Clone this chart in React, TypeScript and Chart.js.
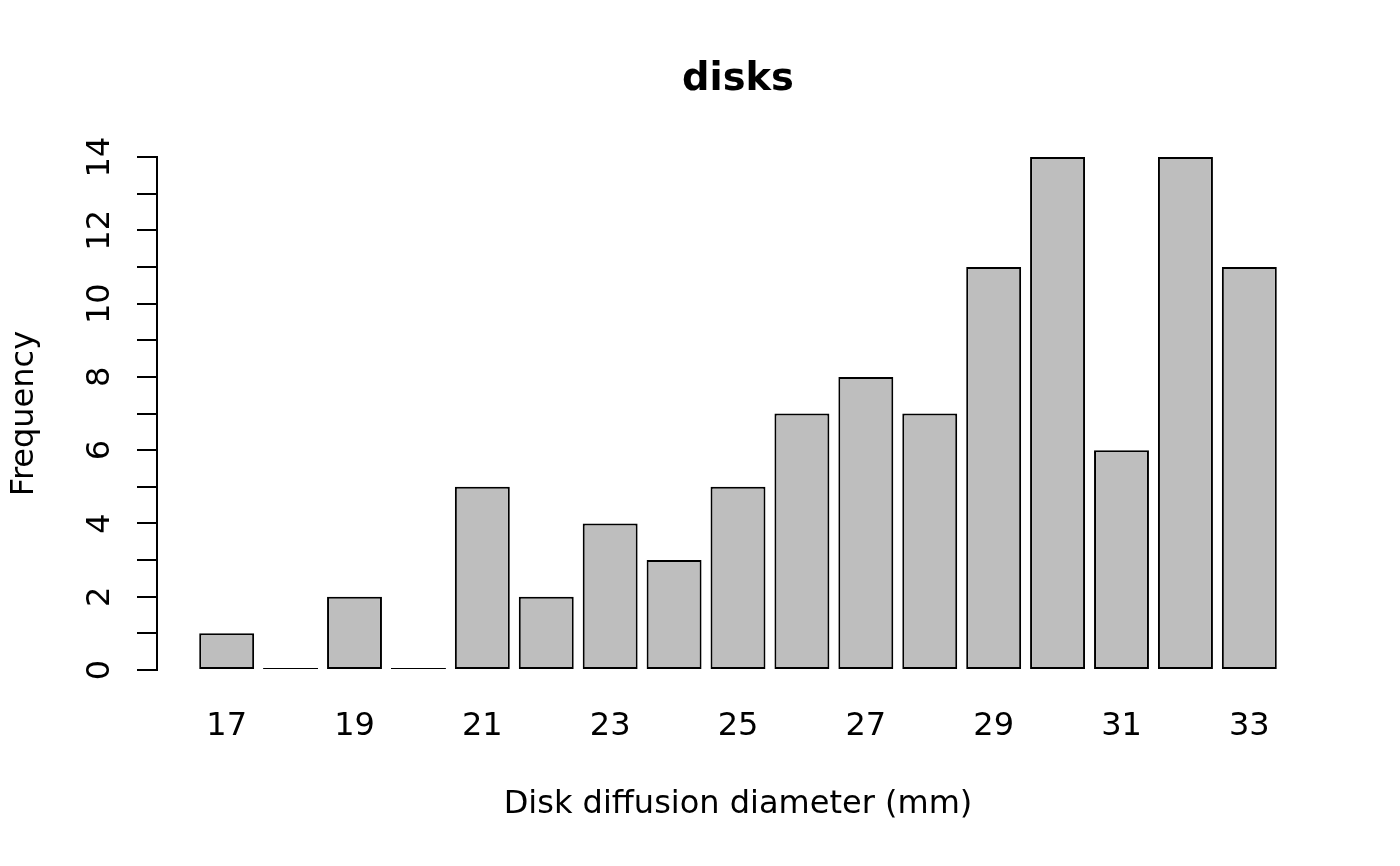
import { useEffect, useRef } from 'react';
import { Chart, registerables } from 'chart.js';

Chart.register(...registerables);

// disk diffusion diameters (mm) and how many isolates had each one
const diameters = [17, 18, 19, 20, 21, 22, 23, 24, 25, 26, 27, 28, 29, 30, 31, 32, 33];
const counts = [1, 0, 2, 0, 5, 2, 4, 3, 5, 7, 8, 7, 11, 14, 6, 14, 11];
const yTicks = [0, 2, 4, 6, 8, 10, 12, 14];

const FONT = 'DejaVu Sans';
const LINE = 2;

const App = () => {
  const chartRef = useRef<HTMLCanvasElement>(null);
  const chartInstance = useRef<Chart | null>(null);

  useEffect(() => {
    if (!chartRef.current) return;
    const ctx = chartRef.current.getContext('2d');
    if (!ctx) return;

    if (chartInstance.current) chartInstance.current.destroy();

    // R's barplot: bars of width 1 with 0.2 gaps, plus a 4% margin each side
    const pad = 0.04 * (diameters.length * 1.2 - 0.2);
    const xMin = diameters[0] - (0.5 + pad) / 1.2;
    const xMax = diameters[diameters.length - 1] + (0.5 + pad) / 1.2;
    // one unit is ~64px; widen a touch because Chart.js draws the border inside the bar
    const barPct = (1 + LINE / 64) / 1.2;

    chartInstance.current = new Chart(ctx, {
      type: 'bar',
      data: {
        datasets: [{
          data: diameters.map((d, i) => ({ x: d, y: counts[i] })),
          backgroundColor: '#bebebe',
          borderColor: '#000000',
          borderWidth: LINE,
          borderSkipped: false,
          minBarLength: LINE,
          categoryPercentage: 1,
          barPercentage: barPct,
        }],
      },
      options: {
        animation: false,
        responsive: true,
        maintainAspectRatio: false,
        devicePixelRatio: 1,
        color: '#000',
        layout: { padding: { left: 0, right: 81, top: 0, bottom: 0 } },
        plugins: {
          legend: { display: false },
          tooltip: { enabled: false },
          title: {
            display: true,
            text: 'disks',
            color: '#000',
            fullSize: false,
            font: { family: FONT, size: 38.4, weight: 'bold', lineHeight: 1.2 },
            padding: { top: 57, bottom: 54 },
          },
        },
        scales: {
          x: {
            type: 'linear',
            offset: false,
            min: xMin,
            max: xMax,
            grid: { display: false, drawTicks: false },
            border: { display: false },
            ticks: {
              stepSize: 1,
              includeBounds: false,
              autoSkip: false,
              maxRotation: 0,
              padding: 37.7,
              color: '#000',
              font: { family: FONT, size: 32, lineHeight: 1.2 },
              callback: (v) => (Number(v) % 2 === 1 ? String(v) : ''),
            },
            title: {
              display: true,
              text: 'Disk diffusion diameter (mm)',
              color: '#000',
              font: { family: FONT, size: 32, lineHeight: 1.2 },
              padding: { top: 0, bottom: 42 },
            },
            afterFit: (scale) => { scale.height = 196; },
          },
          y: {
            min: 0,
            max: 14,
            grid: {
              drawOnChartArea: false,
              drawTicks: true,
              tickLength: 20,
              color: '#000',
              lineWidth: LINE,
            },
            border: { display: true, color: '#000', width: LINE },
            ticks: {
              stepSize: 1,
              autoSkip: false,
              minRotation: 90,
              maxRotation: 90,
              crossAlign: 'center',
              padding: 15.6,
              color: '#000',
              font: { family: FONT, size: 32, lineHeight: 1.2 },
              callback: (v) => (yTicks.includes(Number(v)) ? String(v) : ''),
            },
            title: {
              display: true,
              text: 'Frequency',
              color: '#000',
              font: { family: FONT, size: 32, lineHeight: 1.2 },
              padding: { top: 5, bottom: 0 },
            },
            afterFit: (scale) => { scale.width = 157; },
          },
        },
      },
    });

    return () => {
      if (chartInstance.current) {
        chartInstance.current.destroy();
        chartInstance.current = null;
      }
    };
  }, []);

  return (
    <div style={{ position: 'fixed', left: 0, top: 0, width: 1400, height: 866, background: '#fff' }}>
      <canvas ref={chartRef} />
    </div>
  );
};

export default App;
